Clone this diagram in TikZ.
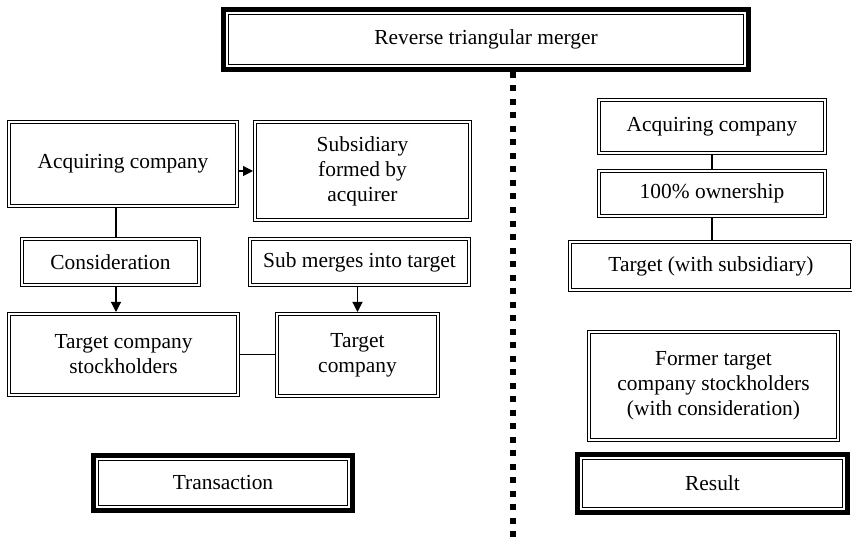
\documentclass[tikz,border=0pt]{standalone}
\usepackage{fontspec}
\setmainfont{Liberation Serif}
\usetikzlibrary{arrows.meta,positioning,calc}

\begin{document}
\begin{tikzpicture}[
    x=1bp, y=-1bp,
    every node/.style={font=\fontsize{21.5}{25}\selectfont, align=center},
    box/.style={draw, double, line width=1.1bp, double distance=1.6bp, fill=white, outer sep=2bp},
    headbox/.style={draw, double, line width=1bp, double distance=2bp, fill=white, outer sep=6bp,
        preaction={draw, line width=12bp}},
    link/.style={line width=1.1bp},
    arrow/.style={link, -{Triangle[length=10bp, width=10bp]}},
    divider/.style={line width=6bp, dash pattern=on 6bp off 7.5bp},
]

\useasboundingbox (0,0) rectangle (852,537);

% Heading
\node[headbox, minimum width=518bp, minimum height=53bp] (title) at (486,39.5) {Reverse triangular merger};

% Divider
\draw[divider] (513,72) -- (513,537);

% Transaction side
\node[box, minimum width=228bp, minimum height=84bp] (acq) at (123,164) {Acquiring company};
\node[box, minimum width=215bp, minimum height=98bp] (sub) at (362.5,171) {Subsidiary\\formed by\\acquirer};
\node[box, minimum width=177bp, minimum height=46bp] (cons) at (110.5,262) {Consideration};
\node[box, minimum width=219bp, minimum height=46bp] (merge) at (359.5,262) {Sub merges into target};
\node[box, minimum width=229bp, minimum height=81bp] (tsh) at (123.5,354.5) {Target company\\stockholders};
\node[box, minimum width=161bp, minimum height=82bp] (tco) at (357.5,355) {Target\\company};
\node[headbox, minimum width=252bp, minimum height=48bp] (trans) at (223,483) {Transaction};

\coordinate (lcol) at (116,0);

\draw[arrow] (acq.east |- sub.west) -- (sub.west);
\draw[link] (acq.south -| lcol) -- (cons.north -| lcol);
\draw[arrow] (cons.south -| lcol) -- (tsh.north -| lcol);
\draw[arrow] (merge.south -| tco.north) -- (tco.north);
\draw[link] (tsh.east) -- (tsh.east -| tco.west);

% Result side
\node[box, minimum width=226bp, minimum height=53bp] (racq) at (712,126.5) {Acquiring company};
\node[box, minimum width=226bp, minimum height=45bp] (own) at (712,193.5) {100\% ownership};
\node[box, minimum width=282bp, minimum height=48bp] (tsub) at (711,266) {Target (with subsidiary)};
\node[box, minimum width=249bp, minimum height=108bp] (former) at (713.5,386) {Former target\\company stockholders\\(with consideration)};
\node[headbox, minimum width=263bp, minimum height=51bp] (result) at (712.5,483.5) {Result};

\draw[link] (racq.south) -- (own.north);
\draw[link] (own.south) -- (own.south |- tsub.north);

\end{tikzpicture}
\end{document}
